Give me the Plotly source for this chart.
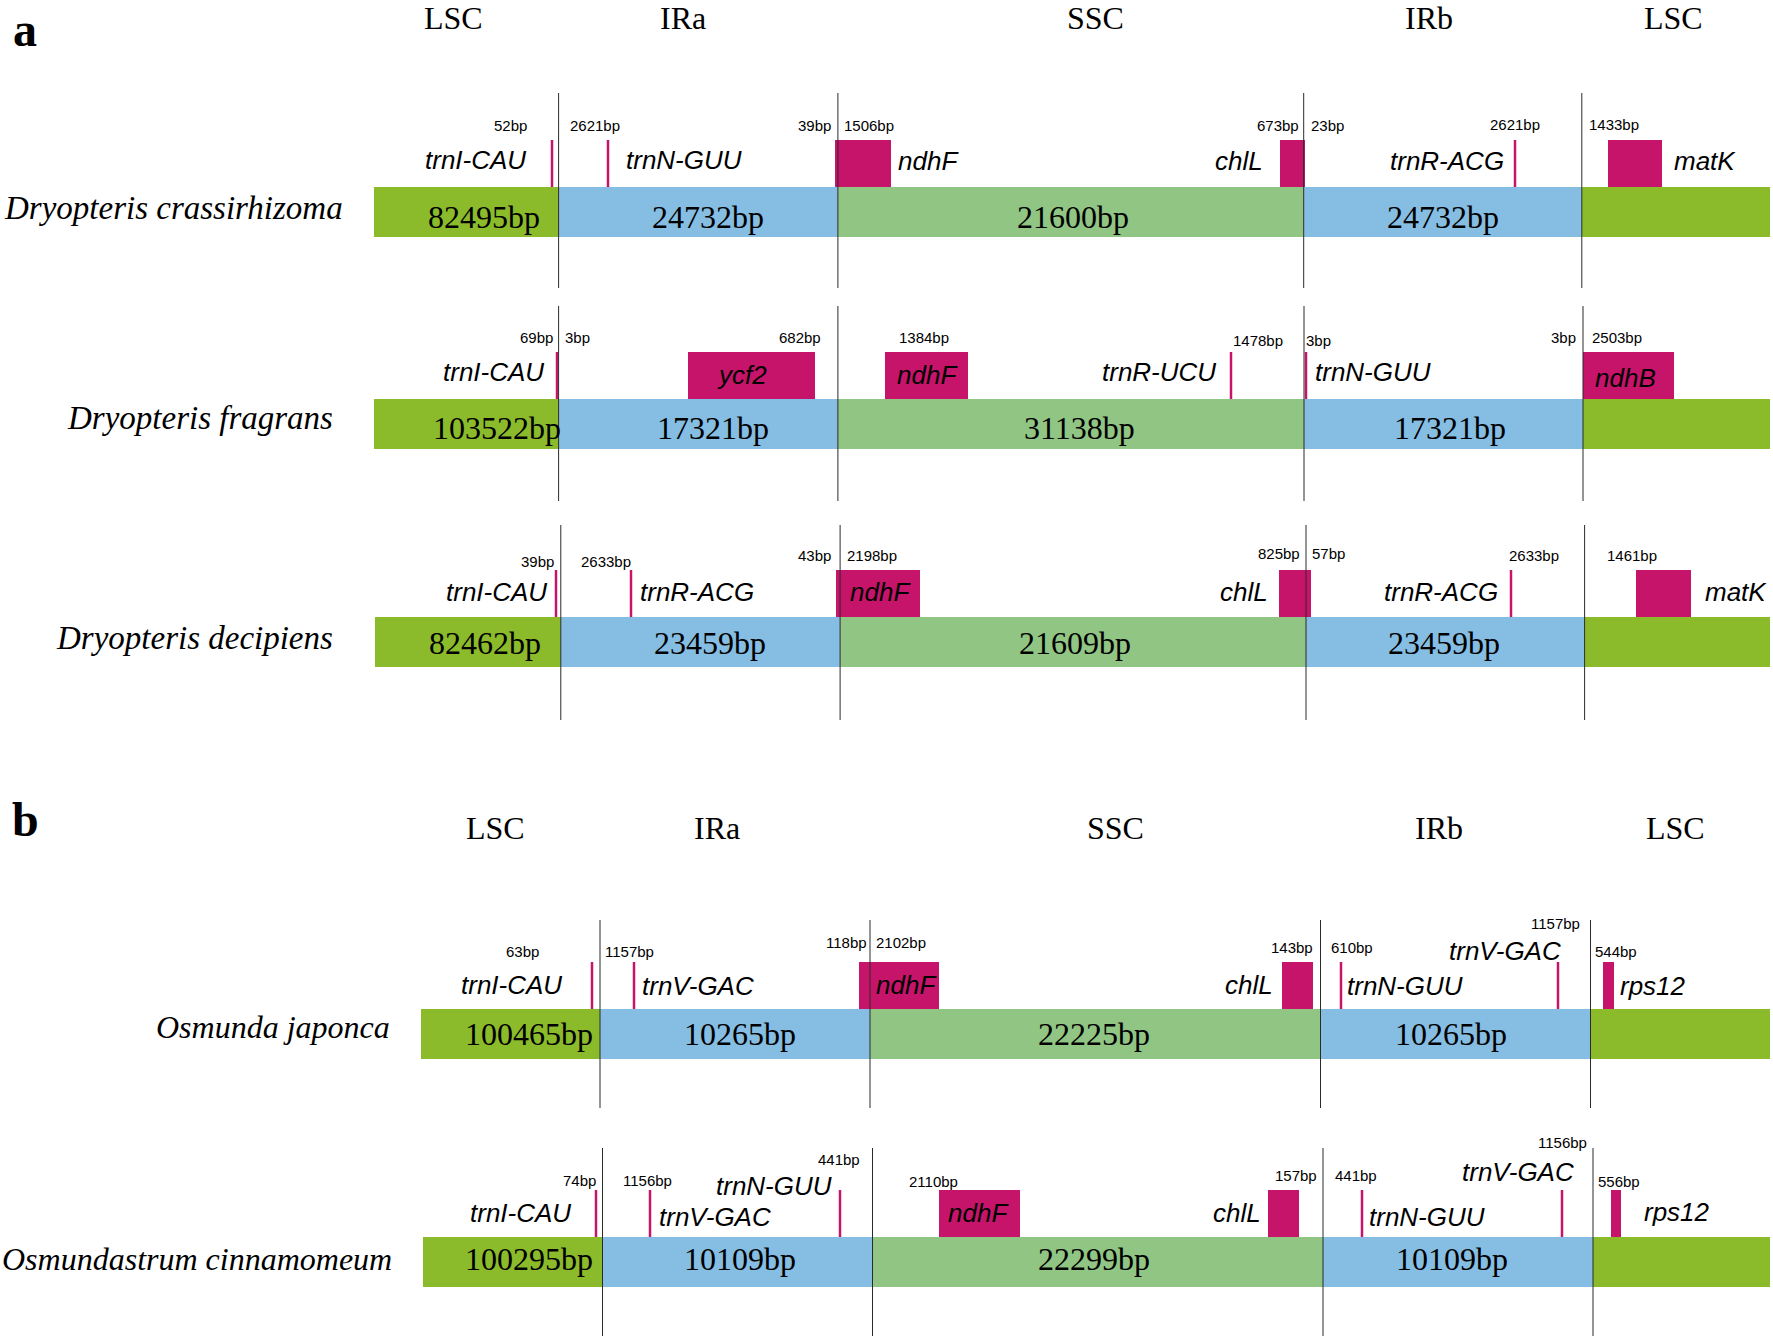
import plotly.graph_objects as go

W, H = 1773, 1336

# ---------------- data (values / texts) ----------------
species = ["Dryopteris crassirhizoma", "Dryopteris fragrans", "Dryopteris decipiens",
           "Osmunda japonca", "Osmundastrum cinnamomeum"]
lsc_len = [82495, 103522, 82462, 100465, 100295]
ira_len = [24732, 17321, 23459, 10265, 10109]
ssc_len = [21600, 31138, 21609, 22225, 22299]
irb_len = [24732, 17321, 23459, 10265, 10109]
region_names = ["LSC", "IRa", "SSC", "IRb", "LSC"]
panel_labels = ["a", "b"]

genes_r1 = ["trnI-CAU", "trnN-GUU", "ndhF", "chlL", "trnR-ACG", "matK"]
genes_r2 = ["trnI-CAU", "ycf2", "ndhF", "trnR-UCU", "trnN-GUU", "ndhB"]
genes_r3 = ["trnI-CAU", "trnR-ACG", "ndhF", "chlL", "trnR-ACG", "matK"]
genes_r4 = ["trnI-CAU", "trnV-GAC", "ndhF", "chlL", "trnN-GUU", "trnV-GAC", "rps12"]
genes_r5 = ["trnI-CAU", "trnV-GAC", "trnN-GUU", "ndhF", "chlL", "trnN-GUU", "trnV-GAC", "rps12"]

bp_r1 = [52, 2621, 39, 1506, 673, 23, 2621, 1433]
bp_r2 = [69, 3, 682, 1384, 1478, 3, 3, 2503]
bp_r3 = [39, 2633, 43, 2198, 825, 57, 2633, 1461]
bp_r4 = [63, 1157, 118, 2102, 143, 610, 1157, 544]
bp_r5 = [74, 1156, 441, 2110, 157, 441, 1156, 556]

genes_all = [genes_r1, genes_r2, genes_r3, genes_r4, genes_r5]
bp_all = [bp_r1, bp_r2, bp_r3, bp_r4, bp_r5]

# ---------------- layout geometry (schematic positions, px) ----------------
BAR_TOP = [187, 399, 617, 1009, 1237]
BAR_H = 50
FEAT_H = 47
BAR_X = [(374, 1770), (374, 1770), (375, 1770), (421, 1770), (423, 1770)]
BOUNDS = [[558.6, 837.9, 1303.7, 1581.8],
          [558.6, 837.9, 1304.0, 1583.0],
          [560.8, 840.1, 1306.0, 1584.6],
          [600.0, 870.0, 1320.5, 1590.5],
          [602.5, 872.5, 1323.0, 1593.0]]
VLINE_Y = [(93, 288), (306, 501), (525, 720), (920, 1108), (1148, 1336)]
SPECIES_POS = [(344, 208), (334, 418), (334, 638), (391, 1027), (393, 1259)]
SPECIES_SIZE = [33, 33, 33, 32, 32]
REGION_LABEL_X = [[484, 708, 1073, 1443],
                  [497, 713, 1079, 1450],
                  [485, 710, 1075, 1444],
                  [529, 740, 1094, 1451],
                  [529, 740, 1094, 1452]]
REGION_LABEL_Y = [217, 428, 643, 1034, 1259]
HEADER_X = [[453, 683, 1095, 1429, 1673], [495, 717, 1115, 1439, 1675]]
HEADER_Y = [18, 828]
PANEL_POS = [(25, 29), (25, 819)]

# gene marks: (x0, x1); x0 == x1 -> thin line
GENE_MARKS = [
    [(552, 552), (608, 608), (835, 891), (1280, 1305), (1515, 1515), (1608, 1662)],
    [(557, 557), (688, 815), (885, 968), (1231, 1231), (1306, 1306), (1583, 1674)],
    [(556, 556), (631, 631), (836, 920), (1279, 1311), (1511, 1511), (1636, 1691)],
    [(592, 592), (634, 634), (859, 939), (1282, 1313), (1341, 1341), (1558, 1558), (1603, 1614)],
    [(596, 596), (650, 650), (840, 840), (939, 1020), (1268, 1299), (1362, 1362), (1562, 1562), (1611, 1621)],
]
# gene label placement: (x, y, anchor)
GENE_LABEL_POS = [
    [(527, 160, "right"), (625, 160, "left"), (897, 161, "left"), (1264, 161, "right"),
     (1505, 161, "right"), (1673, 161, "left")],
    [(545, 372, "right"), (742, 375, "center"), (927, 375, "center"), (1217, 372, "right"),
     (1314, 372, "left"), (1625, 378, "center")],
    [(548, 592, "right"), (639, 592, "left"), (880, 592, "center"), (1269, 592, "right"),
     (1499, 592, "right"), (1704, 592, "left")],
    [(563, 985, "right"), (641, 986, "left"), (906, 985, "center"), (1274, 985, "right"),
     (1346, 986, "left"), (1562, 951, "right"), (1619, 986, "left")],
    [(572, 1213, "right"), (658, 1217, "left"), (833, 1186, "right"), (978, 1213, "center"),
     (1262, 1213, "right"), (1368, 1217, "left"), (1575, 1172, "right"), (1643, 1212, "left")],
]
BP_POS = [
    [(510, 125), (595, 125), (814, 125), (869, 125), (1278, 125), (1327, 125), (1515, 124), (1614, 124)],
    [(536, 337), (577, 337), (800, 337), (924, 337), (1258, 340), (1318, 340), (1563, 337), (1617, 337)],
    [(537, 561), (606, 561), (814, 555), (872, 555), (1279, 553), (1328, 553), (1534, 555), (1632, 555)],
    [(522, 951), (629, 951), (846, 942), (901, 942), (1292, 947), (1352, 947), (1555, 923), (1616, 951)],
    [(579, 1180), (647, 1180), (839, 1159), (933, 1181), (1296, 1175), (1356, 1175), (1562, 1142), (1619, 1181)],
]

# ---------------- styles ----------------
LSC_COLOR = "#8bbb2b"
IR_COLOR = "#86bde3"
SSC_COLOR = "#90c584"
GENE_COLOR = "#c5146a"
SERIF = "Liberation Serif, Times New Roman, serif"
SANS = "Liberation Sans, Arial, sans-serif"

fig = go.Figure()
fig.add_trace(go.Scatter(x=[0, W], y=[0, H], mode="markers",
                         marker=dict(opacity=0), hoverinfo="skip", showlegend=False))

shapes = []
annotations = []

def text(x, y, s, size, family, anchor="center", color="black", italic=False, bold=False):
    if bold:
        s = "<b>" + s + "</b>"
    if italic:
        s = "<i>" + s + "</i>"
    annotations.append(dict(x=x, y=y, xref="x", yref="y", text=s, showarrow=False,
                            xanchor=anchor, yanchor="middle", borderpad=0,
                            font=dict(size=size, family=family, color=color)))

# panel labels and headers
for p in range(2):
    text(PANEL_POS[p][0], PANEL_POS[p][1], panel_labels[p], 48, SERIF, bold=True)
    for k, name in enumerate(region_names):
        text(HEADER_X[p][k], HEADER_Y[p], name, 32, SERIF)

for r in range(len(species)):
    top = BAR_TOP[r]
    bot = top + BAR_H
    x0, x1 = BAR_X[r]
    b = BOUNDS[r]
    edges = [x0] + b + [x1]
    colors = [LSC_COLOR, IR_COLOR, SSC_COLOR, IR_COLOR, LSC_COLOR]
    for k in range(5):
        shapes.append(dict(type="rect", xref="x", yref="y", x0=edges[k], x1=edges[k + 1],
                           y0=top, y1=bot, fillcolor=colors[k], line=dict(width=0), layer="below"))
    # gene marks
    ftop = top - FEAT_H
    for (gx0, gx1) in GENE_MARKS[r]:
        if gx0 == gx1:
            shapes.append(dict(type="line", xref="x", yref="y", x0=gx0, x1=gx0, y0=ftop, y1=top,
                               line=dict(color=GENE_COLOR, width=2.5)))
        else:
            shapes.append(dict(type="rect", xref="x", yref="y", x0=gx0, x1=gx1, y0=ftop, y1=top,
                               fillcolor=GENE_COLOR, line=dict(width=0)))
    # boundary lines
    vy0, vy1 = VLINE_Y[r]
    for bx in b:
        shapes.append(dict(type="line", xref="x", yref="y", x0=bx, x1=bx, y0=vy0, y1=vy1,
                           line=dict(color="#2a2a2a", width=1)))
    # species label
    text(SPECIES_POS[r][0], SPECIES_POS[r][1], species[r], SPECIES_SIZE[r], SERIF,
         anchor="right", italic=True)
    # region lengths
    lens = [lsc_len[r], ira_len[r], ssc_len[r], irb_len[r]]
    for k in range(4):
        text(REGION_LABEL_X[r][k], REGION_LABEL_Y[r], f"{lens[k]}bp", 32, SERIF)
    # gene labels
    for g, (lx, ly, anc) in zip(genes_all[r], GENE_LABEL_POS[r]):
        text(lx, ly, g, 26, SANS, anchor=anc, italic=True)
    # bp labels
    for v, (bx, by) in zip(bp_all[r], BP_POS[r]):
        text(bx, by, f"{v}bp", 15, SANS)

fig.update_layout(
    width=W, height=H,
    margin=dict(l=0, r=0, t=0, b=0),
    paper_bgcolor="white", plot_bgcolor="white",
    xaxis=dict(range=[0, W], visible=False, fixedrange=True),
    yaxis=dict(range=[H, 0], visible=False, fixedrange=True),
    shapes=shapes, annotations=annotations, showlegend=False,
)

fig.write_html("out.html", config={"displayModeBar": False},
               post_script="document.body.style.margin='0';document.body.style.overflow='hidden';")
